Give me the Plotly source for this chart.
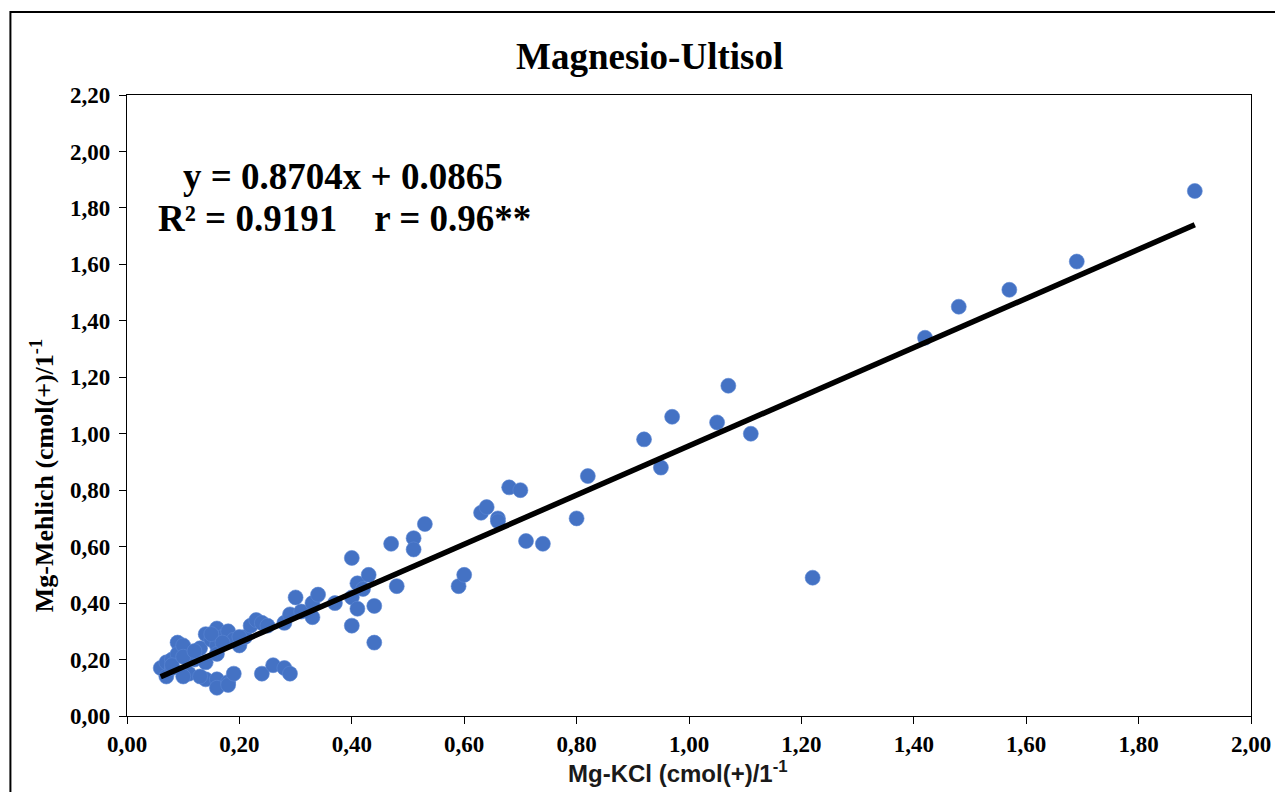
import plotly.graph_objects as go

# Data (Mg-KCl vs Mg-Mehlich, cmol(+)/l)
mg_kcl = [0.06, 0.07, 0.07, 0.08, 0.09, 0.09, 0.08, 0.10, 0.11, 0.10,
          0.12, 0.13, 0.14, 0.14, 0.14, 0.15, 0.16, 0.16, 0.16, 0.16,
          0.16, 0.17, 0.18, 0.18, 0.18, 0.19, 0.19, 0.20, 0.21, 0.22,
          0.23, 0.24, 0.24, 0.25, 0.26, 0.28, 0.28, 0.29, 0.29, 0.30,
          0.31, 0.33, 0.33, 0.34, 0.37, 0.40, 0.40, 0.40, 0.41, 0.41,
          0.42, 0.43, 0.44, 0.44, 0.47, 0.48, 0.51, 0.51, 0.53, 0.59,
          0.60, 0.63, 0.64, 0.66, 0.66, 0.68, 0.70, 0.71, 0.74, 0.80,
          0.82, 0.92, 0.95, 0.97, 1.05, 1.07, 1.11, 1.22, 1.42, 1.48,
          1.57, 1.69, 1.90, 0.08, 0.10, 0.12, 0.15, 0.17, 0.20, 0.13]
mg_mehlich = [0.17, 0.19, 0.14, 0.20, 0.26, 0.22, 0.17, 0.25, 0.15, 0.14,
              0.20, 0.24, 0.29, 0.19, 0.13, 0.27, 0.31, 0.25, 0.22, 0.13,
              0.10, 0.28, 0.30, 0.12, 0.11, 0.15, 0.27, 0.25, 0.28, 0.32,
              0.34, 0.33, 0.15, 0.32, 0.18, 0.33, 0.17, 0.15, 0.36, 0.42,
              0.37, 0.40, 0.35, 0.43, 0.40, 0.56, 0.42, 0.32, 0.47, 0.38,
              0.45, 0.50, 0.39, 0.26, 0.61, 0.46, 0.63, 0.59, 0.68, 0.46,
              0.50, 0.72, 0.74, 0.70, 0.69, 0.81, 0.80, 0.62, 0.61, 0.70,
              0.85, 0.98, 0.88, 1.06, 1.04, 1.17, 1.00, 0.49, 1.34, 1.45,
              1.51, 1.61, 1.86, 0.18, 0.21, 0.23, 0.29, 0.26, 0.28, 0.14]

slope = 0.8704
intercept = 0.0865
x_ticks = [0.0, 0.2, 0.4, 0.6, 0.8, 1.0, 1.2, 1.4, 1.6, 1.8, 2.0]
y_ticks = [0.0, 0.2, 0.4, 0.6, 0.8, 1.0, 1.2, 1.4, 1.6, 1.8, 2.0, 2.2]

line_x = [min(mg_kcl), max(mg_kcl)]
line_y = [slope * v + intercept for v in line_x]

# page offset (body margin) of the rendered figure
OFF = 8
W, H = 1283 - OFF, 792 - OFF
# target plot area in window pixels: left 127, right 1255, top 95, bottom 716
ML, MT = 127 - OFF, 95 - OFF
MR = W - (1255 - OFF)
MB = H - (716 - OFF)

def px_x(p):
    return (p - OFF - ML) / (W - ML - MR)

def px_y(p):
    return 1 - (p - OFF - MT) / (H - MT - MB)

fig = go.Figure()
fig.add_trace(go.Scatter(
    x=mg_kcl, y=mg_mehlich, mode="markers",
    marker=dict(color="#4472C4", size=15, line=dict(width=0.6, color="#5b86d3")),
    showlegend=False, hoverinfo="skip"))
fig.add_trace(go.Scatter(
    x=line_x, y=line_y, mode="lines",
    line=dict(color="black", width=5.5),
    showlegend=False, hoverinfo="skip"))

serif = "Liberation Serif"
axis_common = dict(
    showgrid=False, zeroline=False, showline=True, linecolor="black", linewidth=1.3,
    mirror=True, ticks="outside", ticklen=7, tickcolor="black", tickwidth=1.3,
    tickformat=".2f",
    tickfont=dict(family=serif, size=23, color="black", weight="bold"),
)

fig.update_xaxes(range=[0, 2.0], tickvals=x_ticks, **axis_common)
fig.update_yaxes(range=[0, 2.2], tickvals=y_ticks, ticklabelstandoff=4, **axis_common)

annotations = [
    dict(text="<b>Magnesio-Ultisol</b>", xref="paper", yref="paper",
         x=px_x(651), y=px_y(57), xanchor="center", yanchor="middle",
         showarrow=False, font=dict(family=serif, size=37, color="black")),
    dict(text="<b>y = 0.8704x + 0.0865</b>",
         xref="paper", yref="paper", x=px_x(344), y=px_y(176),
         xanchor="center", yanchor="middle",
         showarrow=False, font=dict(family=serif, size=37, color="black")),
    dict(text="<b>R² = 0.9191\u00a0\u00a0\u00a0\u00a0r = 0.96**</b>",
         xref="paper", yref="paper", x=px_x(345), y=px_y(218),
         xanchor="center", yanchor="middle",
         showarrow=False, font=dict(family=serif, size=37, color="black")),
    dict(text="<b>Mg-KCl (cmol(+)/1<sup>-1</sup></b>", xref="paper", yref="paper",
         x=px_x(680), y=px_y(772), xanchor="center", yanchor="middle",
         showarrow=False, font=dict(family="Liberation Sans", size=24, color="#1a1a1a")),
    dict(text="<b>Mg-Mehlich (cmol(+)/1<sup>-1</sup></b>", xref="paper", yref="paper",
         x=px_x(43), y=px_y(476), xanchor="center", yanchor="middle", textangle=-90,
         showarrow=False, font=dict(family=serif, size=26, color="black")),
]

fig.update_layout(
    width=W, height=H,
    margin=dict(l=ML, r=MR, t=MT, b=MB),
    paper_bgcolor="white", plot_bgcolor="white",
    separators=", ",
    annotations=annotations,
    shapes=[dict(type="rect", xref="paper", yref="paper",
                 x0=px_x(10), x1=px_x(1281), y0=px_y(830), y1=px_y(12),
                 line=dict(color="black", width=2), fillcolor="rgba(0,0,0,0)",
                 layer="below")],
)

fig.write_html("out.html")
